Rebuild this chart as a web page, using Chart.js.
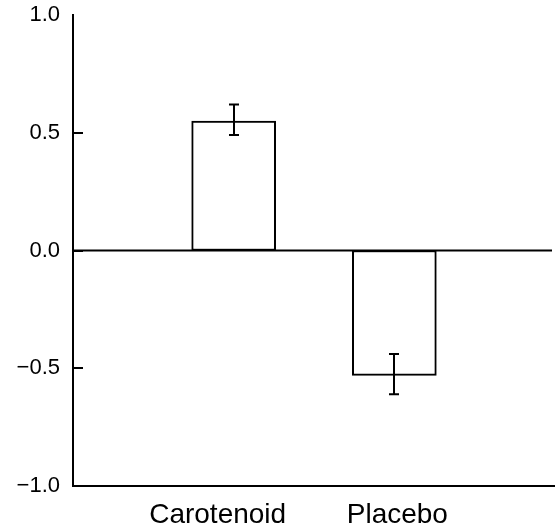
<!DOCTYPE html>
<html>
<head>
<meta charset="utf-8">
<script src="https://cdn.jsdelivr.net/npm/chart.js@4"></script>
<style>
  body { margin: 0; background: #fff; }
  #wrap { width: 555px; height: 527px; }
</style>
</head>
<body>
<div id="wrap"><canvas id="grafico" width="555" height="527"></canvas></div>
<script>
// dados
const categorias = ['Carotenoid', 'Placebo'];
const medias = [0.55, -0.53];
const erroInferior = [0.49, -0.61];
const erroSuperior = [0.62, -0.44];
const yTicks = [-1, -0.5, 0, 0.5, 1];
const yTickLabels = ['\u22121.0', '\u22120.5', '0.0', '0.5', '1.0'];

const FONTE = '"Liberation Sans", Arial, Helvetica, sans-serif';
const deslocRotulo = [-16, 3]; // rótulos não ficam centrados nas barras no original

// linha do zero, marcas internas do eixo y, barras de erro e rótulos das categorias
const extras = {
    id: 'extras',
    beforeDatasetsDraw(chart) {
        const { ctx, chartArea, scales: { y } } = chart;
        const y0 = y.getPixelForValue(0);
        ctx.save();
        ctx.strokeStyle = '#000';
        ctx.lineWidth = 2;
        ctx.beginPath();
        ctx.moveTo(chartArea.left, y0);
        ctx.lineTo(chartArea.right - 3, y0);
        ctx.stroke();
        ctx.restore();
    },
    afterDatasetsDraw(chart) {
        const { ctx, chartArea, scales: { x, y } } = chart;
        ctx.save();
        ctx.strokeStyle = '#000';
        ctx.lineWidth = 2;

        yTicks.slice(1, -1).forEach(v => {
            const py = Math.round(y.getPixelForValue(v));
            ctx.beginPath();
            ctx.moveTo(chartArea.left, py);
            ctx.lineTo(chartArea.left + 10, py);
            ctx.stroke();
        });

        categorias.forEach((c, i) => {
            const px = Math.round(x.getPixelForValue(i + 1));
            const yLo = y.getPixelForValue(erroInferior[i]);
            const yHi = y.getPixelForValue(erroSuperior[i]);
            ctx.beginPath();
            ctx.moveTo(px, yLo); ctx.lineTo(px, yHi);
            ctx.moveTo(px - 5, yLo); ctx.lineTo(px + 5, yLo);
            ctx.moveTo(px - 5, yHi); ctx.lineTo(px + 5, yHi);
            ctx.stroke();
        });

        ctx.fillStyle = '#000';
        ctx.font = '28px ' + FONTE;
        ctx.textAlign = 'center';
        ctx.textBaseline = 'alphabetic';
        categorias.forEach((c, i) => {
            ctx.fillText(c, x.getPixelForValue(i + 1) + deslocRotulo[i], 523);
        });
        ctx.restore();
    }
};

new Chart(document.getElementById('grafico'), {
    type: 'bar',
    data: {
        datasets: [{
            data: medias.map((v, i) => ({ x: i + 1, y: v })),
            backgroundColor: '#fff',
            borderColor: '#000',
            borderWidth: 2,
            borderSkipped: false,
            barThickness: 84
        }]
    },
    options: {
        responsive: false,
        animation: false,
        layout: { padding: { top: 15, right: 0, bottom: 0, left: 0 } },
        plugins: { legend: { display: false }, tooltip: { enabled: false } },
        scales: {
            x: {
                type: 'linear',
                min: 0,
                max: 3,
                offset: false,
                grid: { display: false, drawTicks: false },
                border: { display: true, color: '#000', width: 2 },
                ticks: { display: false },
                afterFit: s => { s.height = 41; }
            },
            y: {
                min: -1,
                max: 1,
                afterBuildTicks: s => { s.ticks = yTicks.map(v => ({ value: v })); },
                grid: { display: false, drawTicks: false },
                border: { display: true, color: '#000', width: 2 },
                ticks: {
                    color: '#000',
                    padding: 13,
                    font: { family: FONTE, size: 22 },
                    callback: (v, i) => yTickLabels[i]
                },
                afterFit: s => {
                    s.width = 73;
                    s.paddingTop = 0;
                    s.paddingBottom = 0;
                }
            }
        }
    },
    plugins: [extras]
});
</script>
</body>
</html>
